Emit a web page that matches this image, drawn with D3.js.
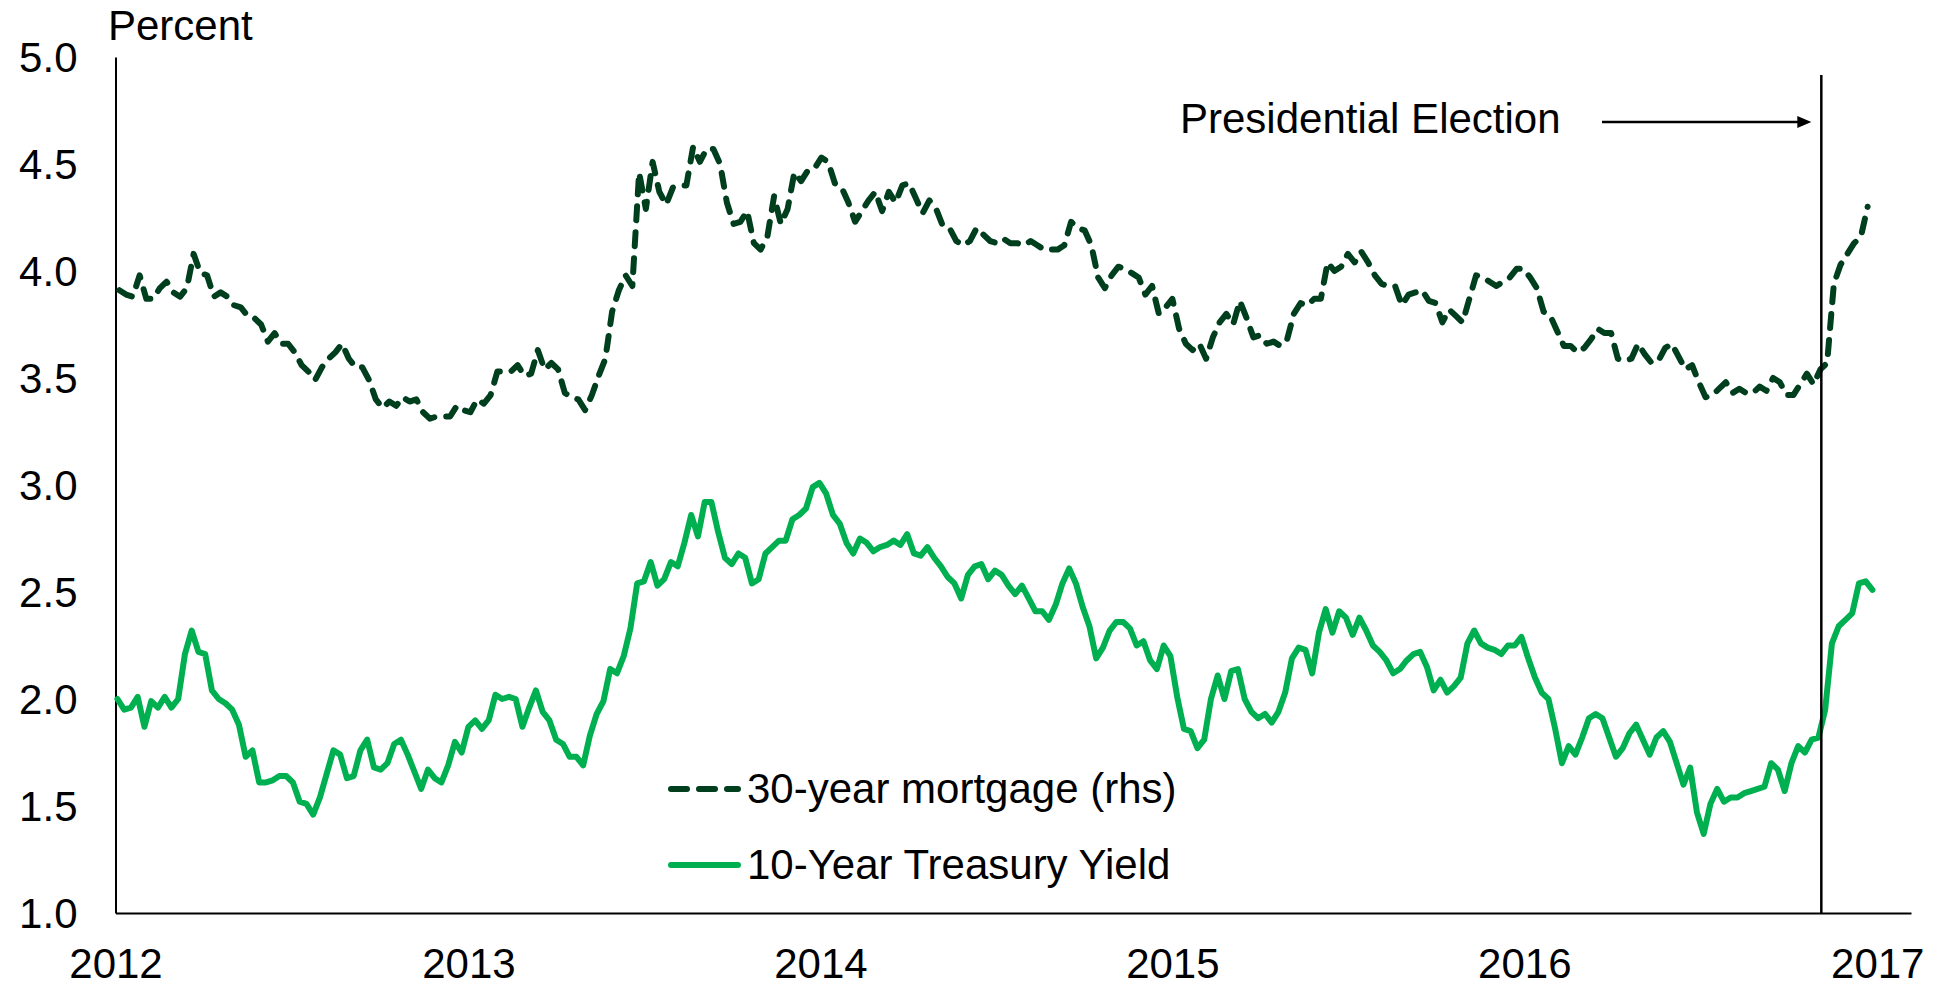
<!DOCTYPE html>
<html>
<head>
<meta charset="utf-8">
<script src="https://cdn.jsdelivr.net/npm/d3@7"></script>
<style>
  body { margin: 0; background: #ffffff; }
  text { font-family: "Liberation Sans", Arial, Helvetica, sans-serif; fill: #000; }
</style>
</head>
<body>
<svg id="chart" width="1948" height="986"></svg>
<script>
// ---------------- DATA ----------------
const yTicks = [1.0, 1.5, 2.0, 2.5, 3.0, 3.5, 4.0, 4.5, 5.0];
const xTickYears = [2012, 2013, 2014, 2015, 2016, 2017];
const yAxisTitle = "Percent";
const annotationText = "Presidential Election";
const electionMarkerDate = "2016-11-04";
const seriesNames = ["30-year mortgage (rhs)", "10-Year Treasury Yield"];

// 30-year mortgage rate, weekly (Thursdays) starting 2012-01-05
const mortgageStart = "2012-01-05";
const mortgage2012 = [3.91,3.89,3.88,3.98,3.87,3.87,3.92,3.95,3.90,3.88,3.92,4.08,3.99,3.98,3.88,3.90,3.88,3.84,3.83,3.79,3.78,3.75,3.67,3.71,3.66,3.66,3.62,3.56,3.53,3.49,3.55,3.59,3.62,3.66,3.59,3.55,3.55,3.49,3.40,3.36,3.39,3.37,3.41,3.39,3.40,3.34,3.31,3.32,3.32,3.32,3.37,3.35];
const mortgage2013 = [3.34,3.40,3.38,3.42,3.53,3.53,3.53,3.56,3.51,3.52,3.63,3.54,3.57,3.54,3.43,3.41,3.40,3.35,3.42,3.51,3.59,3.81,3.91,3.98,3.93,4.46,4.29,4.51,4.37,4.31,4.39,4.40,4.40,4.58,4.51,4.57,4.57,4.50,4.32,4.22,4.23,4.28,4.13,4.10,4.16,4.35,4.22,4.29,4.46,4.42,4.47,4.48];
const mortgage2014 = [4.53,4.51,4.41,4.39,4.32,4.23,4.28,4.33,4.37,4.28,4.37,4.32,4.40,4.41,4.34,4.27,4.33,4.29,4.21,4.20,4.14,4.12,4.14,4.20,4.17,4.14,4.13,4.15,4.13,4.13,4.12,4.14,4.12,4.10,4.10,4.10,4.12,4.23,4.20,4.19,4.12,3.97,3.92,3.98,4.02,4.01,3.99,3.97,3.89,3.93,3.80,3.83,3.87];
const mortgage2015 = [3.73,3.66,3.63,3.66,3.59,3.69,3.76,3.80,3.75,3.86,3.78,3.69,3.70,3.66,3.67,3.65,3.68,3.80,3.85,3.84,3.87,3.87,4.04,4.00,4.02,4.08,4.04,4.09,4.04,3.98,3.94,3.93,3.93,3.84,3.89,3.90,3.91,3.86,3.85,3.76,3.82,3.79,3.76,3.87,3.98,3.97,3.95,3.93,3.95,3.97,4.01,4.01];
const mortgage2016 = [3.97,3.92,3.81,3.79,3.72,3.65,3.65,3.62,3.64,3.68,3.73,3.71,3.71,3.59,3.58,3.59,3.66,3.61,3.57,3.58,3.64,3.66,3.60,3.54,3.56,3.48,3.41,3.42,3.45,3.48,3.43,3.45,3.43,3.43,3.46,3.44,3.50,3.48,3.42,3.42,3.47,3.52,3.47,3.54,3.57,3.94,4.03,4.08,4.13,4.16,4.30];

// 10-year Treasury yield, weekly starting 2012-01-03
const treasuryStart = "2012-01-03";
const treasury2012 = [2.00,1.95,1.96,2.01,1.87,1.99,1.96,2.01,1.96,2.00,2.21,2.32,2.22,2.21,2.04,2.00,1.98,1.95,1.88,1.73,1.76,1.61,1.61,1.62,1.64,1.64,1.61,1.52,1.51,1.46,1.54,1.65,1.76,1.74,1.63,1.64,1.76,1.81,1.68,1.67,1.70,1.79,1.81,1.74,1.66,1.58,1.67,1.63,1.61,1.69,1.80,1.75];
const treasury2013 = [1.87,1.90,1.86,1.90,2.02,2.00,2.01,2.00,1.87,1.96,2.04,1.94,1.90,1.81,1.79,1.73,1.73,1.69,1.83,1.93,1.99,2.14,2.12,2.20,2.33,2.54,2.55,2.64,2.53,2.56,2.64,2.62,2.73,2.86,2.76,2.92,2.92,2.78,2.66,2.63,2.68,2.66,2.54,2.56,2.68,2.71,2.74,2.74,2.84,2.86,2.89,2.99];
const treasury2014 = [3.01,2.96,2.86,2.82,2.73,2.68,2.75,2.73,2.69,2.71,2.72,2.74,2.72,2.77,2.68,2.67,2.71,2.66,2.62,2.57,2.54,2.47,2.58,2.62,2.63,2.56,2.60,2.58,2.53,2.49,2.53,2.47,2.41,2.41,2.37,2.44,2.54,2.61,2.54,2.43,2.34,2.19,2.24,2.32,2.36,2.36,2.33,2.25,2.27,2.18,2.14,2.25,2.20];
const treasury2015 = [2.01,1.86,1.85,1.77,1.81,2.00,2.11,2.00,2.13,2.14,2.00,1.94,1.91,1.93,1.89,1.94,2.03,2.19,2.24,2.23,2.12,2.31,2.42,2.31,2.41,2.38,2.30,2.38,2.32,2.25,2.22,2.18,2.12,2.14,2.18,2.21,2.22,2.15,2.04,2.09,2.03,2.06,2.10,2.26,2.32,2.26,2.24,2.23,2.21,2.25,2.25,2.29];
const treasury2016 = [2.19,2.10,2.03,2.00,1.86,1.70,1.78,1.74,1.82,1.91,1.93,1.91,1.82,1.73,1.77,1.84,1.88,1.81,1.74,1.82,1.85,1.80,1.70,1.60,1.68,1.47,1.37,1.51,1.58,1.52,1.54,1.54,1.56,1.57,1.58,1.59,1.70,1.67,1.57,1.70,1.78,1.75,1.81,1.82,1.95,2.26,2.34,2.37,2.40,2.54,2.55,2.51];

// ---------------- BUILD ----------------
(function () {
  const parse = d3.timeParse("%Y-%m-%d");
  function weekly(start, values) {
    const s = parse(start);
    return values.map((v, i) => ({ date: d3.timeDay.offset(s, 7 * i), v }));
  }
  const mortgage = weekly(mortgageStart, [].concat(mortgage2012, mortgage2013, mortgage2014, mortgage2015, mortgage2016));
  const treasury = weekly(treasuryStart, [].concat(treasury2012, treasury2013, treasury2014, treasury2015, treasury2016));

  const COLORS = { mortgage: "#003F1E", treasury: "#00B050" };
  const FONT = 42;

  const svg = d3.select("#chart");
  const mLeft = 115.5, mRight = 1911, mTop = 57, mBottom = 913;

  const x = d3.scaleTime()
    .domain([new Date(2012, 0, 1), new Date(2017, 1, 5)])
    .range([mLeft, mRight]);
  const y = d3.scaleLinear().domain([1, 5]).range([mBottom, mTop]);

  // Y axis
  const yAxis = svg.append("g")
    .attr("transform", `translate(${mLeft},0)`)
    .call(d3.axisLeft(y).tickValues(yTicks).tickFormat(d3.format(".1f")).tickSize(0).tickSizeOuter(0).tickPadding(38));
  yAxis.select(".domain").attr("stroke", "#000").attr("stroke-width", 2);
  yAxis.selectAll("text").style("font-size", FONT + "px").attr("dy", "0.35em").attr("fill", "#000");

  // X axis
  const xAxis = svg.append("g")
    .attr("transform", `translate(0,${mBottom})`)
    .call(d3.axisBottom(x).tickValues(xTickYears.map(yr => new Date(yr, 0, 1)))
      .tickFormat(d3.timeFormat("%Y")).tickSize(0).tickSizeOuter(0).tickPadding(35));
  xAxis.select(".domain").attr("stroke", "#000").attr("stroke-width", 2);
  xAxis.selectAll("text").style("font-size", FONT + "px").attr("fill", "#000");

  // Axis title
  svg.append("text").attr("x", 108).attr("y", 40).style("font-size", FONT + "px").text(yAxisTitle);

  // Lines
  const line = d3.line().x(d => x(d.date)).y(d => y(d.v));

  svg.append("path").datum(treasury)
    .attr("fill", "none").attr("stroke", COLORS.treasury).attr("stroke-width", 6)
    .attr("stroke-linejoin", "round").attr("stroke-linecap", "round")
    .attr("d", line);

  svg.append("path").datum(mortgage)
    .attr("fill", "none").attr("stroke", COLORS.mortgage).attr("stroke-width", 6)
    .attr("stroke-linejoin", "round").attr("stroke-linecap", "round")
    .attr("stroke-dasharray", "14,12")
    .attr("d", line);

  // Election marker
  const ex = x(parse(electionMarkerDate));
  svg.append("line").attr("x1", ex).attr("x2", ex).attr("y1", 75).attr("y2", mBottom)
    .attr("stroke", "#000").attr("stroke-width", 2.5);

  // Annotation
  svg.append("text").attr("x", 1180).attr("y", 133).style("font-size", FONT + "px").text(annotationText);
  svg.append("line").attr("x1", 1602).attr("x2", ex - 22).attr("y1", 122).attr("y2", 122)
    .attr("stroke", "#000").attr("stroke-width", 2.5);
  svg.append("path")
    .attr("d", `M${ex - 10},122 L${ex - 24},116 L${ex - 24},128 Z`)
    .attr("fill", "#000");

  // Legend
  const legend = svg.append("g");
  legend.append("line").attr("x1", 671).attr("x2", 738).attr("y1", 789).attr("y2", 789)
    .attr("stroke", COLORS.mortgage).attr("stroke-width", 6).attr("stroke-linecap", "round")
    .attr("stroke-dasharray", "16,12");
  legend.append("text").attr("x", 747).attr("y", 803).style("font-size", FONT + "px").text(seriesNames[0]);
  legend.append("line").attr("x1", 671).attr("x2", 738).attr("y1", 865).attr("y2", 865)
    .attr("stroke", COLORS.treasury).attr("stroke-width", 6).attr("stroke-linecap", "round");
  legend.append("text").attr("x", 747).attr("y", 879).style("font-size", FONT + "px").text(seriesNames[1]);
})();
</script>
</body>
</html>
